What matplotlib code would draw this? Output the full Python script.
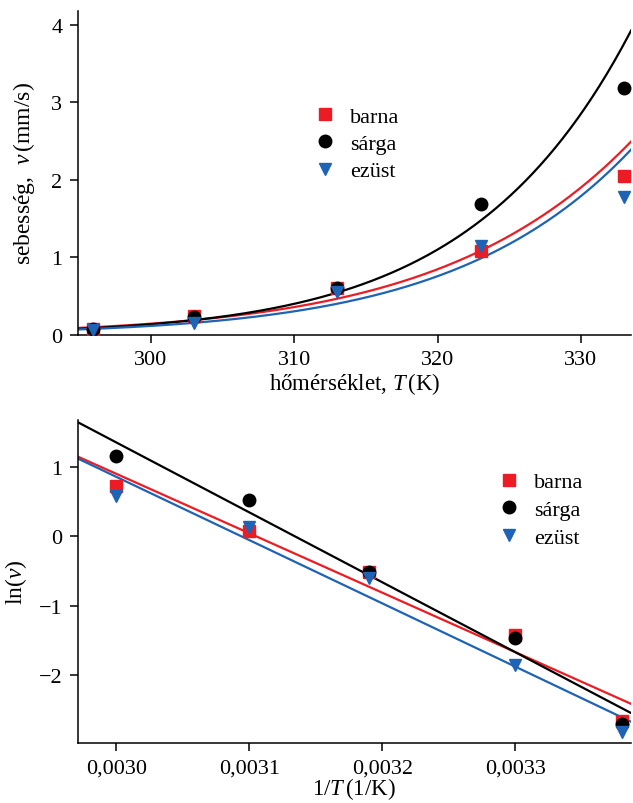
import numpy as np
import matplotlib.pyplot as plt
from matplotlib.ticker import FuncFormatter

plt.rcParams['font.family'] = ['Liberation Serif', 'DejaVu Serif']
plt.rcParams['mathtext.fontset'] = 'custom'
plt.rcParams['mathtext.rm'] = 'Liberation Serif'
plt.rcParams['mathtext.it'] = 'Liberation Serif:italic'

# Mérési adatok
T = np.array([296, 303, 313, 323, 333])
inv_T = np.array([0.00338, 0.0033, 0.00319, 0.0031, 0.0030])  # 1/T, kerekítve
v_barna = np.array([0.07, 0.24, 0.60, 1.08, 2.05])
v_sarga = np.array([0.067, 0.23, 0.60, 1.68, 3.18])
v_ezust = np.array([0.06, 0.157, 0.55, 1.14, 1.78])

nevek = ['barna', 'sárga', 'ezüst']
szinek = ['#ec1c24', 'black', '#1e63b4']
jelek = ['s', 'o', 'v']
adatok = [v_barna, v_sarga, v_ezust]

fig = plt.figure(figsize=(6.33, 8.04), dpi=100)
ax1 = fig.add_axes([0.1227, 0.5825, 0.8743, 0.403])
ax2 = fig.add_axes([0.1227, 0.0743, 0.8743, 0.4025])

T_fit = np.linspace(294.9, 333.5, 300)
x_fit = np.linspace(0.002971, 0.003387, 100)

# Arrhenius-illesztés: ln(v) = a*(1/T) + b
for v, nev, szin, jel, z in zip(adatok, nevek, szinek, jelek, [3, 4, 5]):
    a, b = np.polyfit(inv_T, np.log(v), 1)
    ax1.plot(T_fit, np.exp(a / T_fit + b), '-', color=szin, lw=1.6, zorder=2)
    ax2.plot(x_fit, a * x_fit + b, '-', color=szin, lw=1.6, zorder=2)
    ax1.plot(T, v, jel, color=szin, ms=9, ls='none', label=nev, zorder=z)
    ax2.plot(inv_T, np.log(v), jel, color=szin, ms=9, ls='none', label=nev, zorder=z)

ax1.set_xlim(294.9, 333.5)
ax1.set_ylim(0, 4.18)
ax1.set_xticks([300, 310, 320, 330])
ax1.set_yticks([0, 1, 2, 3, 4])
ax1.set_xlabel('hőmérséklet, $\\mathit{T}\\,$(K)', fontsize=16.5, labelpad=1)
ax1.set_ylabel('sebesség,  $\\mathit{v}\\,$(mm/s)', fontsize=17, labelpad=10)
ax1.legend(loc='center left', bbox_to_anchor=(0.39, 0.589), frameon=False,
           fontsize=16, handlelength=1.0, handletextpad=0.65, labelspacing=0.3)

ax2.set_xlim(0.002971, 0.003387)
ax2.set_ylim(-2.98, 1.68)
ax2.set_xticks([0.0030, 0.0031, 0.0032, 0.0033])
ax2.set_yticks([-2, -1, 0, 1])
ax2.xaxis.set_major_formatter(FuncFormatter(lambda val, pos: f'{val:.4f}'.replace('.', ',')))
ax2.set_xlabel('1/$\\mathit{T}\\,$(1/K)', fontsize=16.5, labelpad=-1.5)
ax2.set_ylabel('ln($\\mathit{v}$)', fontsize=17, labelpad=7)
ax2.legend(loc='center left', bbox_to_anchor=(0.724, 0.721), frameon=False,
           fontsize=16, handlelength=1.0, handletextpad=0.6, labelspacing=0.33)

for ax in (ax1, ax2):
    ax.spines['top'].set_visible(False)
    ax.spines['right'].set_visible(False)
    ax.tick_params(labelsize=16, length=6, width=1.1, pad=5)
    for s in ('left', 'bottom'):
        ax.spines[s].set_linewidth(1.1)

fig.savefig('out.png', dpi=100)
